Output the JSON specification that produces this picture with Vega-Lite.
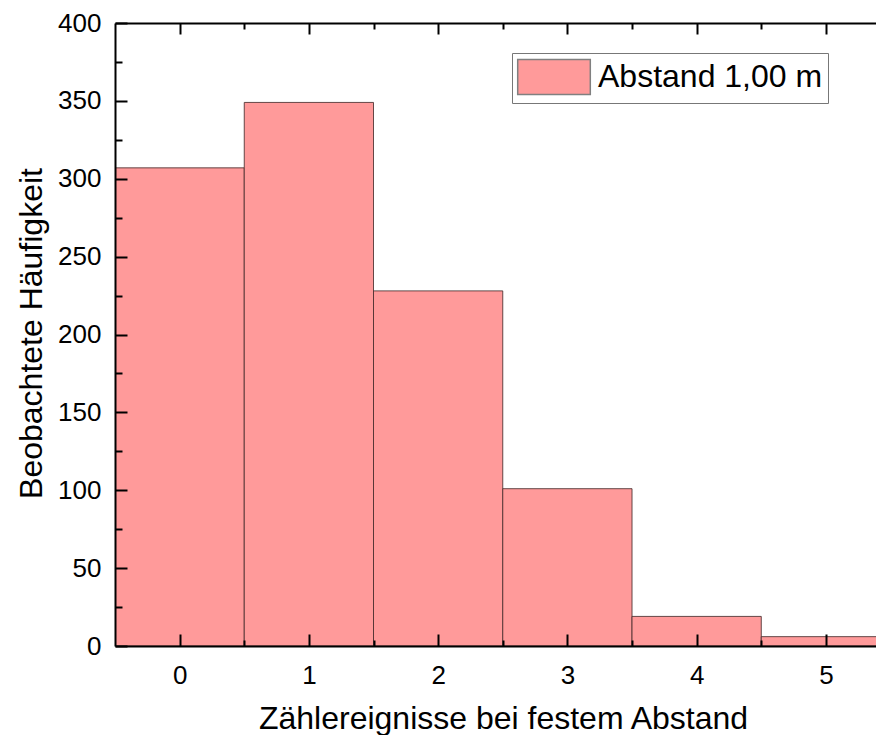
{
  "$schema": "https://vega.github.io/schema/vega-lite/v6.json",
  "width": 761,
  "height": 623,
  "autosize": "none",
  "padding": {"left": 115, "top": 23, "right": 0, "bottom": 89},
  "background": "white",
  "config": {
    "view": {"stroke": null},
    "font": "Liberation Sans",
    "axis": {"grid": false}
  },
  "data": {
    "values": [
      {"k": 0, "lo": -0.5, "hi": 0.5, "count": 307},
      {"k": 1, "lo": 0.5, "hi": 1.5, "count": 349},
      {"k": 2, "lo": 1.5, "hi": 2.5, "count": 228},
      {"k": 3, "lo": 2.5, "hi": 3.5, "count": 101},
      {"k": 4, "lo": 3.5, "hi": 4.5, "count": 19},
      {"k": 5, "lo": 4.5, "hi": 5.5, "count": 6}
    ]
  },
  "resolve": {"axis": {"x": "independent", "y": "independent"}},
  "layer": [
    {
      "mark": {"type": "bar", "orient": "vertical", "clip": true, "stroke": "#4a2e2e", "strokeWidth": 1, "strokeOpacity": 0.85},
      "encoding": {
        "x": {
          "field": "lo", "type": "quantitative",
          "scale": {"domain": [-0.5, 5.3876], "nice": false, "zero": false, "padding": 0},
          "axis": {
            "orient": "bottom", "values": [0, 1, 2, 3, 4, 5], "ticks": false, "tickSize": 0,
            "domain": true, "domainColor": "black", "domainWidth": 2,
            "labelFontSize": 26, "labelColor": "black", "labelPadding": 16,
            "title": "Zählereignisse bei festem Abstand", "titleFontSize": 32, "titleFontWeight": "normal",
            "titleColor": "black", "titleX": 388, "titleY": 82, "titleBaseline": "alphabetic", "titleAlign": "center",
            "zindex": 1
          }
        },
        "x2": {"field": "hi"},
        "y": {
          "field": "count", "type": "quantitative",
          "scale": {"domain": [0, 400], "nice": false, "zero": true, "padding": 0},
          "axis": {
            "orient": "left", "values": [0, 50, 100, 150, 200, 250, 300, 350, 400], "ticks": false, "tickSize": 0,
            "domain": true, "domainColor": "black", "domainWidth": 2,
            "labelFontSize": 26, "labelColor": "black", "labelPadding": 14,
            "title": "Beobachtete Häufigkeit", "titleFontSize": 32, "titleFontWeight": "normal",
            "titleColor": "black", "titleX": -74, "titleY": 310, "titleBaseline": "alphabetic", "titleAlign": "center", "titleAngle": -90,
            "zindex": 1
          }
        },
        "y2": {"datum": 0},
        "fill": {
          "datum": "Abstand 1,00 m", "type": "nominal",
          "scale": {"range": ["#ff9a9a"]},
          "legend": {
            "title": null, "orient": "none", "legendX": 397, "legendY": 30,
            "padding": 5, "strokeColor": "#777777", "fillColor": "white",
            "symbolType": "M-2,-0.97H2V0.97H-2Z", "symbolSize": 1318,
            "symbolOffset": 18, "labelOffset": 25,
            "symbolStrokeColor": "#808080", "symbolStrokeWidth": 1.5, "symbolOpacity": 1,
            "labelFontSize": 32, "labelColor": "black", "labelLimit": 400
          }
        }
      }
    },
    {
      "mark": {"type": "bar", "orient": "vertical", "opacity": 0},
      "encoding": {
        "x": {
          "field": "lo", "type": "quantitative",
          "scale": {"domain": [-0.5, 5.3876], "nice": false, "zero": false, "padding": 0},
          "axis": {"orient": "bottom", "values": [0, 1, 2, 3, 4, 5], "labels": false, "domain": false, "offset": -12, "tickSize": 12, "tickWidth": 2, "tickColor": "black", "title": null, "zindex": 2}
        },
        "x2": {"field": "hi"},
        "y": {
          "field": "count", "type": "quantitative",
          "scale": {"domain": [0, 400], "nice": false, "padding": 0},
          "axis": {"orient": "left", "values": [0, 50, 100, 150, 200, 250, 300, 350, 400], "labels": false, "domain": false, "offset": -12, "tickSize": 12, "tickWidth": 2, "tickColor": "black", "title": null, "zindex": 2}
        },
        "y2": {"datum": 0}
      }
    },
    {
      "mark": {"type": "bar", "orient": "vertical", "opacity": 0},
      "encoding": {
        "x": {
          "field": "lo", "type": "quantitative",
          "scale": {"domain": [-0.5, 5.3876], "nice": false, "zero": false, "padding": 0},
          "axis": {"orient": "bottom", "values": [0.5, 1.5, 2.5, 3.5, 4.5], "labels": false, "domain": false, "offset": -6, "tickSize": 6, "tickWidth": 2, "tickColor": "black", "title": null, "zindex": 2}
        },
        "x2": {"field": "hi"},
        "y": {
          "field": "count", "type": "quantitative",
          "scale": {"domain": [0, 400], "nice": false, "padding": 0},
          "axis": {"orient": "left", "values": [25, 75, 125, 175, 225, 275, 325, 375], "labels": false, "domain": false, "offset": -7, "tickSize": 7, "tickWidth": 2, "tickColor": "black", "title": null, "zindex": 2}
        },
        "y2": {"datum": 0}
      }
    },
    {
      "mark": {"type": "bar", "orient": "vertical", "opacity": 0},
      "encoding": {
        "x": {
          "field": "lo", "type": "quantitative",
          "scale": {"domain": [-0.5, 5.3876], "nice": false, "zero": false, "padding": 0},
          "axis": {"orient": "top", "values": [0, 1, 2, 3, 4, 5], "labels": false, "domain": false, "offset": -11, "tickSize": 11, "tickWidth": 2, "tickColor": "black", "title": null, "zindex": 2}
        },
        "x2": {"field": "hi"},
        "y": {"field": "count", "type": "quantitative", "scale": {"domain": [0, 400], "nice": false, "padding": 0}, "axis": null},
        "y2": {"datum": 0}
      }
    },
    {
      "mark": {"type": "bar", "orient": "vertical", "opacity": 0},
      "encoding": {
        "x": {
          "field": "lo", "type": "quantitative",
          "scale": {"domain": [-0.5, 5.3876], "nice": false, "zero": false, "padding": 0},
          "axis": {"orient": "top", "values": [0.5, 1.5, 2.5, 3.5, 4.5], "labels": false, "domain": false, "offset": -6, "tickSize": 6, "tickWidth": 2, "tickColor": "black", "title": null, "zindex": 2}
        },
        "x2": {"field": "hi"},
        "y": {"field": "count", "type": "quantitative", "scale": {"domain": [0, 400], "nice": false, "padding": 0}, "axis": null},
        "y2": {"datum": 0}
      }
    },
    {
      "mark": {"type": "bar", "orient": "vertical", "opacity": 0},
      "encoding": {
        "x": {
          "field": "lo", "type": "quantitative",
          "scale": {"domain": [-0.5, 5.3876], "nice": false, "zero": false, "padding": 0},
          "axis": {"orient": "top", "values": [], "labels": false, "ticks": false, "domain": true, "domainColor": "black", "domainWidth": 2, "title": null, "zindex": 2}
        },
        "x2": {"field": "hi"},
        "y": {"field": "count", "type": "quantitative", "scale": {"domain": [0, 400], "nice": false, "padding": 0}, "axis": null},
        "y2": {"datum": 0}
      }
    }
  ]
}
